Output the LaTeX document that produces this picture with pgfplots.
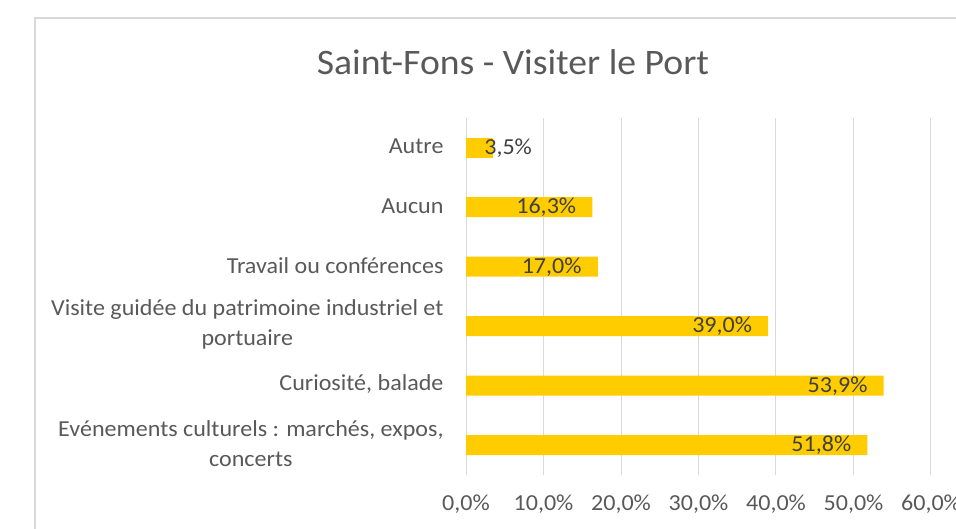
\documentclass[border=0pt]{standalone}
\usepackage{pgfplots}
\pgfplotsset{compat=1.18}
\usepackage{fontspec}
\setmainfont{Carlito}[FakeStretch=1.05]
\definecolor{barc}{HTML}{FFCC00}
\definecolor{txt}{HTML}{595959}
\definecolor{lbl}{HTML}{404040}
\definecolor{gridc}{HTML}{D9D9D9}
\begin{document}
\begin{tikzpicture}
\useasboundingbox (0bp,0bp) rectangle (956bp,529bp);
\draw[gridc, line width=1.2bp] (35bp,0bp) -- (35bp,511bp) -- (956bp,511bp);
\node[txt, font=\fontsize{36}{40}\selectfont] at (513bp,467bp) {Saint-Fons - Visiter le Port};
\begin{axis}[
  at={(466bp,54bp)}, anchor=south west,
  scale only axis, width=465bp, height=357bp,
  xmin=0, xmax=60, xtick={0,10,...,60},
  ymin=-0.5, ymax=5.5, ytick={0,...,5},
  yticklabels={{Evénements culturels : marchés, expos,\\concerts},{Curiosité, balade},{Visite guidée du patrimoine industriel et\\portuaire},{Travail ou conférences},{Aucun},{Autre}},
  yticklabel style={align=center, font=\fontsize{23}{30}\selectfont, text=txt, xshift=-19bp, yshift=1.5bp},
  xticklabel={\pgfmathprintnumber[fixed,fixed zerofill,precision=1,use comma,assume math mode=true]{\tick}\%},
  xticklabel style={font=\fontsize{23}{28}\selectfont, text=txt, yshift=-16bp},
  xmajorgrids, major grid style={gridc, line width=1bp},
  axis line style={draw=none},
  major tick length=0pt,
  xbar, bar width=20bp, bar shift=0pt,
  point meta=x,
  nodes near coords={\pgfmathprintnumber[fixed,fixed zerofill,precision=1,use comma,assume math mode=true]{\pgfplotspointmeta}\%},
  every node near coord/.append style={font=\fontsize{23}{28}\selectfont, text=lbl, inner sep=0pt},
]
\addplot[fill=barc, draw=none, every node near coord/.append style={anchor=east, xshift=-16bp}]
  coordinates {(51.8,0) (53.9,1) (39.0,2) (17.0,3) (16.3,4)};
\addplot[fill=barc, draw=none, every node near coord/.append style={anchor=west, xshift=-9bp}]
  coordinates {(3.5,5)};
\end{axis}
\end{tikzpicture}
\end{document}
